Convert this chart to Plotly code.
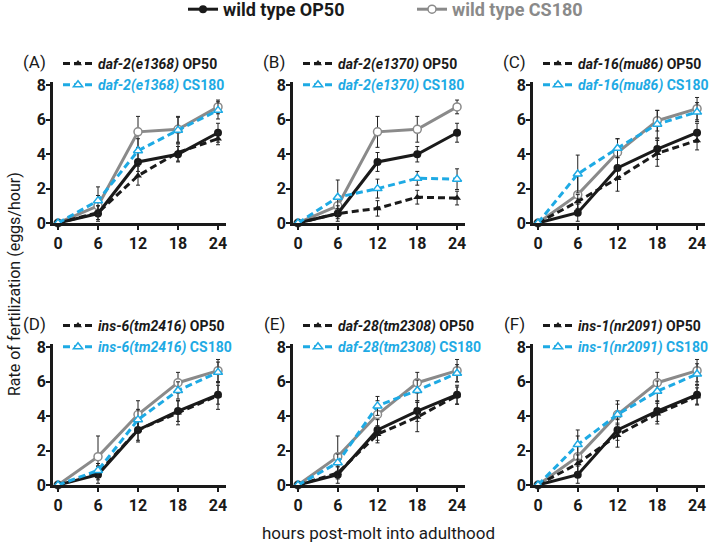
import plotly.graph_objects as go

# ---------------- data ----------------
hours = [0, 6, 12, 18, 24]
x_ticks = [0, 6, 12, 18, 24]
y_ticks = [0, 2, 4, 6, 8]

panel_letters = ["(A)", "(B)", "(C)", "(D)", "(E)", "(F)"]
mutant_names = ["daf-2(e1368)", "daf-2(e1370)", "daf-16(mu86)",
                "ins-6(tm2416)", "daf-28(tm2308)", "ins-1(nr2091)"]

# wild type values used in panels A-B and in panels C-F
wt_op50_ab = [0, 0.55, 3.55, 4.0, 5.25]
wt_op50_ab_err = [0, 0.45, 0.55, 0.45, 0.55]
wt_cs180_ab = [0, 1.0, 5.3, 5.45, 6.75]
wt_cs180_ab_err = [0, 0.6, 0.9, 0.75, 0.4]

wt_op50_cf = [0, 0.6, 3.2, 4.3, 5.25]
wt_op50_cf_err = [0, 0.5, 0.6, 0.6, 0.55]
wt_cs180_cf = [0, 1.65, 4.1, 5.95, 6.65]
wt_cs180_cf_err = [0, 1.2, 0.8, 0.6, 0.65]

# mutants
a_op50 = [0, 0.6, 2.75, 4.1, 4.9]
a_op50_err = [0, 0.4, 0.55, 0.5, 0.35]
a_cs180 = [0, 1.3, 4.2, 5.4, 6.55]
a_cs180_err = [0, 0.8, 0.7, 0.75, 0.5]

b_op50 = [0, 0.55, 0.85, 1.5, 1.45]
b_op50_err = [0, 0.3, 0.45, 0.4, 0.4]
b_cs180 = [0, 1.5, 2.0, 2.6, 2.55]
b_cs180_err = [0, 1.0, 0.55, 0.4, 0.6]

c_op50 = [0, 1.25, 2.6, 4.05, 4.8]
c_op50_err = [0, 0.4, 0.75, 0.75, 0.55]
c_cs180 = [0, 2.85, 4.35, 5.75, 6.45]
c_cs180_err = [0, 1.1, 0.55, 0.8, 0.55]

d_op50 = [0, 0.7, 3.2, 4.2, 5.2]
d_op50_err = [0, 0.4, 0.7, 0.7, 0.8]
d_cs180 = [0, 0.85, 3.8, 5.5, 6.55]
d_cs180_err = [0, 0.4, 0.6, 0.5, 0.6]

e_op50 = [0, 0.7, 2.95, 3.95, 5.2]
e_op50_err = [0, 0.35, 0.5, 0.85, 0.5]
e_cs180 = [0, 1.3, 4.6, 5.5, 6.5]
e_cs180_err = [0, 0.5, 0.55, 0.6, 0.5]

f_op50 = [0, 1.25, 2.9, 4.15, 5.15]
f_op50_err = [0, 0.5, 0.7, 0.6, 0.5]
f_cs180 = [0, 2.35, 4.1, 5.45, 6.45]
f_cs180_err = [0, 0.85, 0.6, 0.6, 0.6]

# ---------------- style ----------------
W, H = 712, 556
FONT = "Roboto, Liberation Sans, sans-serif"
BLACK = "#1a1a1a"
GREY = "#8a8a8a"
BLUE = "#1eaae4"
ERRC = "#222222"

panels = [
    (wt_op50_ab, wt_op50_ab_err, wt_cs180_ab, wt_cs180_ab_err, a_op50, a_op50_err, a_cs180, a_cs180_err),
    (wt_op50_ab, wt_op50_ab_err, wt_cs180_ab, wt_cs180_ab_err, b_op50, b_op50_err, b_cs180, b_cs180_err),
    (wt_op50_cf, wt_op50_cf_err, wt_cs180_cf, wt_cs180_cf_err, c_op50, c_op50_err, c_cs180, c_cs180_err),
    (wt_op50_cf, wt_op50_cf_err, wt_cs180_cf, wt_cs180_cf_err, d_op50, d_op50_err, d_cs180, d_cs180_err),
    (wt_op50_cf, wt_op50_cf_err, wt_cs180_cf, wt_cs180_cf_err, e_op50, e_op50_err, e_cs180, e_cs180_err),
    (wt_op50_cf, wt_op50_cf_err, wt_cs180_cf, wt_cs180_cf_err, f_op50, f_op50_err, f_cs180, f_cs180_err),
]

# pixel layout of plot areas (left, right) and (top, bottom)
col_px = [(53, 226), (293, 465), (533, 705)]
row_px = [(82, 223), (344, 485)]


def px_x(p):
    return p / W


def px_y(p):
    return 1 - p / H


fig = go.Figure()
layout = {}
annotations = []


def err(vals):
    return dict(type="data", array=vals, visible=True, color=ERRC,
                thickness=1, width=2)


for i, (wo, woe, wc, wce, mo, moe, mc, mce) in enumerate(panels):
    r, c = divmod(i, 3)
    n = i + 1
    xa = "x" if n == 1 else f"x{n}"
    ya = "y" if n == 1 else f"y{n}"
    leg = f"legend{n + 1}"

    # wild type CS180
    fig.add_trace(go.Scatter(
        x=hours, y=wc, xaxis=xa, yaxis=ya, mode="lines+markers",
        name=f"<span style='color:{GREY}'>wild type CS180</span>",
        legend="legend", showlegend=(i == 0),
        line=dict(color=GREY, width=3),
        marker=dict(symbol="circle", size=8, color="white",
                    line=dict(color=GREY, width=1.5)),
        error_y=err(wce), cliponaxis=False))
    # wild type OP50
    fig.add_trace(go.Scatter(
        x=hours, y=wo, xaxis=xa, yaxis=ya, mode="lines+markers",
        name="wild type OP50", legend="legend", showlegend=(i == 0),
        line=dict(color=BLACK, width=3),
        marker=dict(symbol="circle", size=8, color=BLACK),
        error_y=err(woe), cliponaxis=False))
    # mutant OP50
    fig.add_trace(go.Scatter(
        x=hours, y=mo, xaxis=xa, yaxis=ya, mode="lines+markers",
        name=f"<i>{mutant_names[i]}</i> OP50", legend=leg, showlegend=True,
        line=dict(color=BLACK, width=3, dash="7px,4px"),
        marker=dict(symbol="triangle-up", size=7, color=BLACK),
        error_y=err(moe), cliponaxis=False))
    # mutant CS180
    fig.add_trace(go.Scatter(
        x=hours, y=mc, xaxis=xa, yaxis=ya, mode="lines+markers",
        name=f"<span style='color:{BLUE}'><i>{mutant_names[i]}</i> CS180</span>",
        legend=leg, showlegend=True,
        line=dict(color=BLUE, width=3, dash="7px,4px"),
        marker=dict(symbol="triangle-up", size=8, color="white",
                    line=dict(color=BLUE, width=1.5)),
        error_y=err(mce), cliponaxis=False))

    xl, xr = col_px[c]
    yt, yb = row_px[r]
    axis_common = dict(showline=True, linecolor=BLACK, linewidth=2.5,
                       ticks="outside", ticklen=4, tickwidth=2,
                       tickcolor=BLACK, showgrid=False, zeroline=False,
                       tickfont=dict(family=FONT, size=16, color=BLACK,
                                     weight="bold"))
    layout["xaxis" if n == 1 else f"xaxis{n}"] = dict(
        domain=[px_x(xl), px_x(xr)], anchor=ya, range=[-0.75, 25.2],
        tickvals=x_ticks, **axis_common)
    layout["yaxis" if n == 1 else f"yaxis{n}"] = dict(
        domain=[px_y(yb), px_y(yt)], anchor=xa, range=[0, 8.2],
        tickvals=y_ticks, ticklabelstandoff=-3, **axis_common)

    layout[leg] = dict(
        x=px_x(xl + 5), y=px_y(yt - 34), xanchor="left", yanchor="top",
        bgcolor="rgba(0,0,0,0)", tracegroupgap=0, itemwidth=30,
        font=dict(family=FONT, size=14, color=BLACK, weight="bold"))

    annotations.append(dict(
        text=panel_letters[i], x=px_x(xl - 19), y=px_y(yt - 20),
        xref="paper", yref="paper", xanchor="center", yanchor="middle",
        showarrow=False, font=dict(family=FONT, size=17, color=BLACK)))

annotations.append(dict(
    text="Rate of fertilization (eggs/hour)", textangle=-90,
    x=px_x(14), y=px_y(284), xref="paper", yref="paper",
    xanchor="center", yanchor="middle", showarrow=False,
    font=dict(family=FONT, size=16, color=BLACK)))
annotations.append(dict(
    text="hours post-molt into adulthood",
    x=px_x(378), y=px_y(533), xref="paper", yref="paper",
    xanchor="center", yanchor="middle", showarrow=False,
    font=dict(family=FONT, size=17, color=BLACK)))

fig.update_layout(
    width=W, height=H,
    margin=dict(l=0, r=0, t=0, b=0, autoexpand=False),
    paper_bgcolor="white", plot_bgcolor="white",
    annotations=annotations,
    legend=dict(orientation="h", x=px_x(183), y=px_y(-9), xanchor="left",
                yanchor="top", traceorder="reversed", entrywidth=184,
                bgcolor="rgba(0,0,0,0)",
                font=dict(family=FONT, size=18, color=BLACK, weight="bold")),
    **layout)

# remove the default page margin so the figure sits at the window's corner
fig.write_html("out.html",
               config={"displayModeBar": False},
               post_script="document.body.style.margin='0px';")
